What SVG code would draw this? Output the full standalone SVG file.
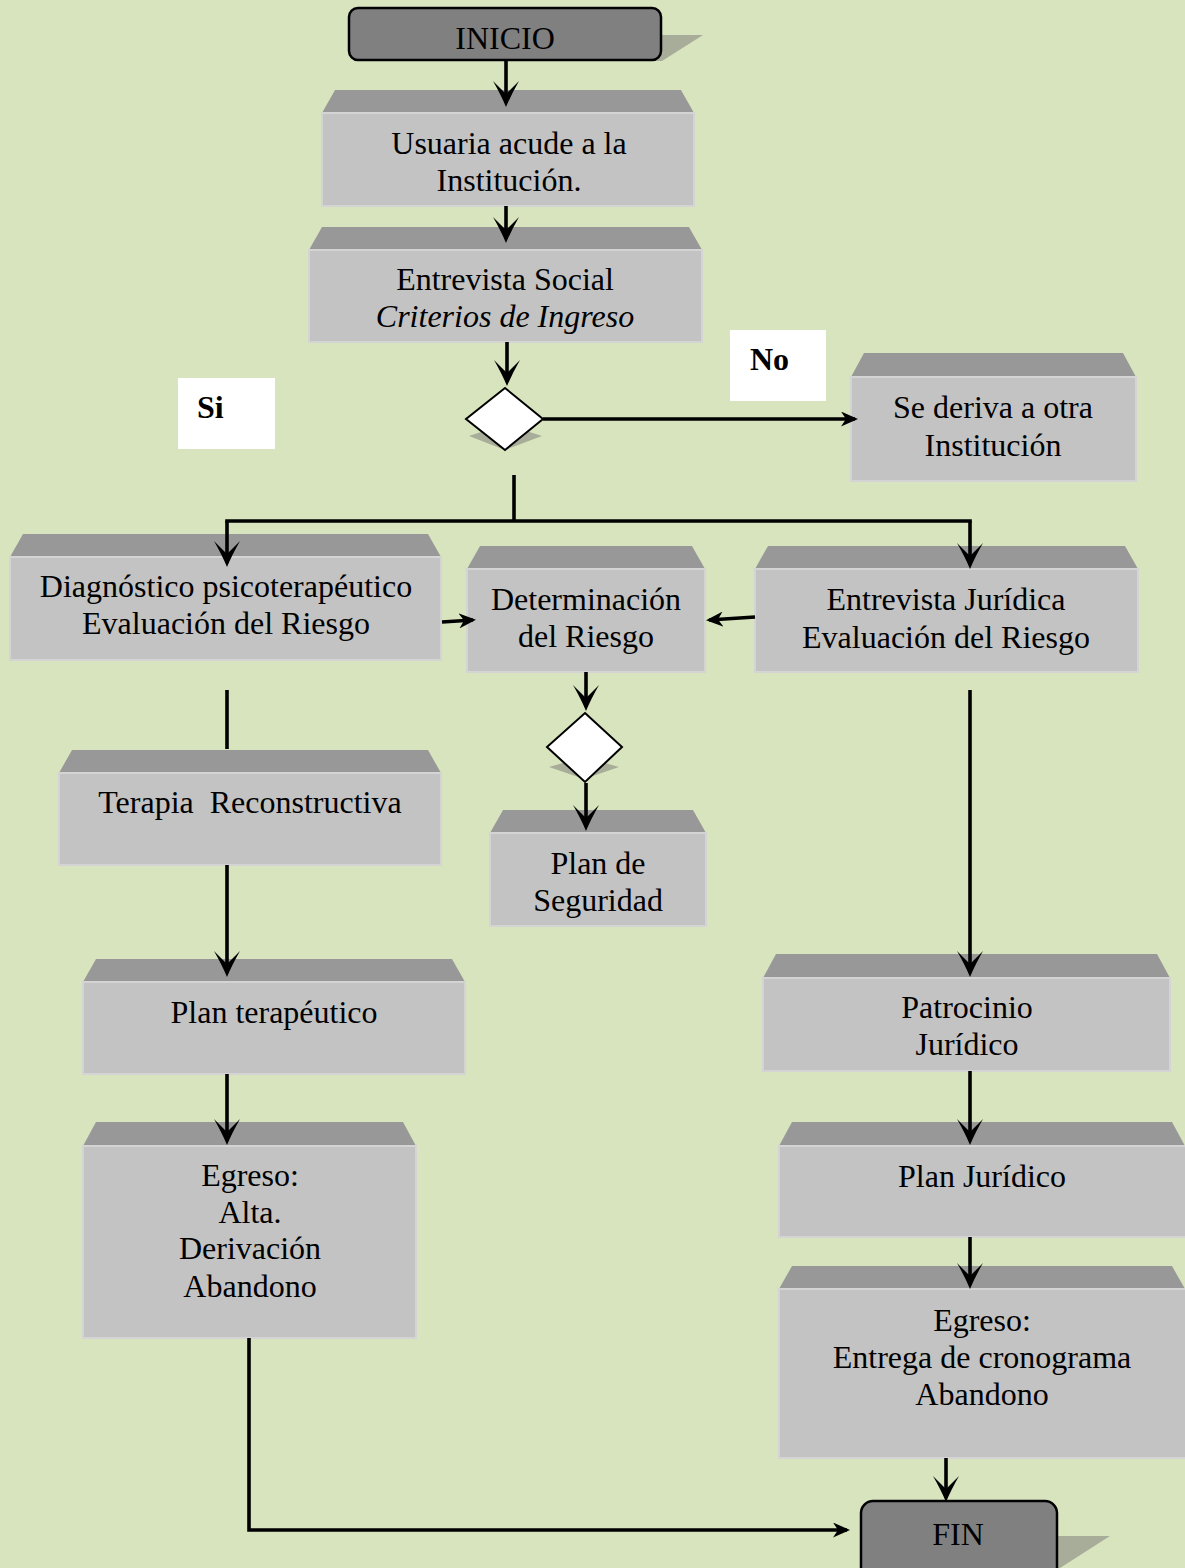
<svg xmlns="http://www.w3.org/2000/svg" width="1185" height="1568" viewBox="0 0 1185 1568">
<defs>
<style>
.bg{fill:#d7e4bd}
.top{fill:#989898}
.front{fill:#c3c3c3;stroke:#d4d4d4;stroke-width:2}
.term{fill:#808080;stroke:#000;stroke-width:2.5}
.shadow{fill:#a8ad9a}
.dia{fill:#fff;stroke:#000;stroke-width:2}
.lbl{fill:#fff}
text{font-family:"Liberation Serif","Times New Roman",serif;font-size:32px;fill:#000;text-anchor:middle}
.b{font-weight:bold;text-anchor:start}
.i{font-style:italic}
.c line,.c polyline{stroke:#000;stroke-width:3.6;fill:none}
</style>
<marker id="big" markerUnits="userSpaceOnUse" markerWidth="26" markerHeight="26" viewBox="0 0 26 26" refX="22" refY="13" orient="auto"><path d="M0,0 Q14,8 26,13 Q14,18 0,26 L13,13 z" fill="#000"/></marker>
<marker id="sm" markerUnits="userSpaceOnUse" markerWidth="17" markerHeight="15" viewBox="0 0 17 15" refX="14" refY="7.5" orient="auto"><path d="M0,0 L17,7.5 L0,15 L5,7.5 z" fill="#000"/></marker>
</defs>
<rect class="bg" x="0" y="0" width="1185" height="1568"/>

<g id="inicio">
<polygon class="shadow" points="560,35 703,35 662,61 560,61"/>
<rect class="term" x="349" y="8" width="312" height="52" rx="9"/>
<text x="505" y="49" font-size="31">INICIO</text>
</g>

<g id="usuaria">
<polygon class="top" points="322,113 335,90 681,90 694,113"/>
<rect class="front" x="322" y="113" width="372" height="93"/>
<text x="509" y="154">Usuaria acude a la</text>
<text x="509" y="191">Institución.</text>
</g>

<g id="entrevista-social">
<polygon class="top" points="309,250 322,227 689,227 702,250"/>
<rect class="front" x="309" y="250" width="393" height="92"/>
<text x="505" y="290">Entrevista Social</text>
<text x="505" y="327" class="i">Criterios de Ingreso</text>
</g>

<g id="decision1">
<polygon class="shadow" points="469,436 505,424 542,436 505,450"/>
<polygon class="dia" points="505,388 543,419 505,450 466,419"/>
</g>

<g id="label-no">
<rect class="lbl" x="730" y="330" width="96" height="71"/>
<text x="750" y="370" class="b">No</text>
</g>
<g id="label-si">
<rect class="lbl" x="178" y="378" width="97" height="71"/>
<text x="197" y="418" class="b">Si</text>
</g>

<g id="se-deriva">
<polygon class="top" points="851,377 864,353 1123,353 1136,377"/>
<rect class="front" x="851" y="377" width="285" height="104"/>
<text x="993" y="418">Se deriva a otra</text>
<text x="993" y="456">Institución</text>
</g>

<g id="diagnostico">
<polygon class="top" points="10,557 23,534 428,534 441,557"/>
<rect class="front" x="10" y="557" width="431" height="103"/>
<text x="226" y="597">Diagnóstico psicoterapéutico</text>
<text x="226" y="634">Evaluación del Riesgo</text>
</g>

<g id="determinacion">
<polygon class="top" points="467,569 480,546 692,546 705,569"/>
<rect class="front" x="467" y="569" width="238" height="103"/>
<text x="586" y="610">Determinación</text>
<text x="586" y="647">del Riesgo</text>
</g>

<g id="entrevista-juridica">
<polygon class="top" points="755,569 768,546 1125,546 1138,569"/>
<rect class="front" x="755" y="569" width="383" height="103"/>
<text x="946" y="610">Entrevista Jurídica</text>
<text x="946" y="648">Evaluación del Riesgo</text>
</g>

<g id="decision2">
<polygon class="shadow" points="549,767 584,757 619,767 584,779"/>
<polygon class="dia" points="585,713 622,747 585,782 547,747"/>
</g>

<g id="plan-seguridad">
<polygon class="top" points="490,833 503,810 693,810 706,833"/>
<rect class="front" x="490" y="833" width="216" height="93"/>
<text x="598" y="874">Plan de</text>
<text x="598" y="911">Seguridad</text>
</g>

<g id="terapia">
<polygon class="top" points="59,773 72,750 428,750 441,773"/>
<rect class="front" x="59" y="773" width="382" height="92"/>
<text x="250" y="813" style="white-space:pre">Terapia  Reconstructiva</text>
</g>

<g id="plan-terapeutico">
<polygon class="top" points="83,982 96,959 452,959 465,982"/>
<rect class="front" x="83" y="982" width="382" height="92"/>
<text x="274" y="1023">Plan terapéutico</text>
</g>

<g id="egreso-terapia">
<polygon class="top" points="83,1146 96,1122 403,1122 416,1146"/>
<rect class="front" x="83" y="1146" width="333" height="192"/>
<text x="250" y="1186">Egreso:</text>
<text x="250" y="1223">Alta.</text>
<text x="250" y="1259">Derivación</text>
<text x="250" y="1297">Abandono</text>
</g>

<g id="patrocinio">
<polygon class="top" points="763,978 776,954 1157,954 1170,978"/>
<rect class="front" x="763" y="978" width="407" height="93"/>
<text x="967" y="1018">Patrocinio</text>
<text x="967" y="1055">Jurídico</text>
</g>

<g id="plan-juridico">
<polygon class="top" points="779,1146 792,1122 1172,1122 1185,1146"/>
<rect class="front" x="779" y="1146" width="410" height="91"/>
<text x="982" y="1187">Plan Jurídico</text>
</g>

<g id="egreso-juridico">
<polygon class="top" points="779,1289 792,1266 1172,1266 1185,1289"/>
<rect class="front" x="779" y="1289" width="410" height="169"/>
<text x="982" y="1331">Egreso:</text>
<text x="982" y="1368">Entrega de cronograma</text>
<text x="982" y="1405">Abandono</text>
</g>

<g id="fin">
<polygon class="shadow" points="1000,1536 1110,1536 1060,1568 1000,1568"/>
<rect class="term" x="861" y="1501" width="196" height="80" rx="12"/>
<text x="958" y="1545" font-size="31">FIN</text>
</g>

<g id="connectors" class="c">
<line x1="506" y1="61" x2="506" y2="103" marker-end="url(#big)"/>
<line x1="506" y1="206" x2="506" y2="239" marker-end="url(#big)"/>
<line x1="507" y1="342" x2="507" y2="382" marker-end="url(#big)"/>
<line x1="543" y1="419" x2="855" y2="419" marker-end="url(#sm)"/>
<line x1="514" y1="475" x2="514" y2="521"/>
<line x1="225.2" y1="521" x2="971.8" y2="521"/>
<line x1="227" y1="521" x2="227" y2="563" marker-end="url(#big)"/>
<line x1="970" y1="521" x2="970" y2="565" marker-end="url(#big)"/>
<line x1="442" y1="622" x2="473" y2="620" marker-end="url(#sm)"/>
<line x1="755" y1="617" x2="709" y2="620" marker-end="url(#sm)"/>
<line x1="586" y1="672" x2="586" y2="707" marker-end="url(#big)"/>
<line x1="586" y1="783" x2="586" y2="827" marker-end="url(#big)"/>
<line x1="227" y1="690" x2="227" y2="749"/>
<line x1="227" y1="865" x2="227" y2="973" marker-end="url(#big)"/>
<line x1="227" y1="1074" x2="227" y2="1141" marker-end="url(#big)"/>
<polyline points="249,1338 249,1530 847,1530" marker-end="url(#sm)"/>
<line x1="970" y1="690" x2="970" y2="973" marker-end="url(#big)"/>
<line x1="970" y1="1071" x2="970" y2="1141" marker-end="url(#big)"/>
<line x1="970" y1="1237" x2="970" y2="1285" marker-end="url(#big)"/>
<line x1="946" y1="1458" x2="946" y2="1498" marker-end="url(#big)"/>
</g>
</svg>
